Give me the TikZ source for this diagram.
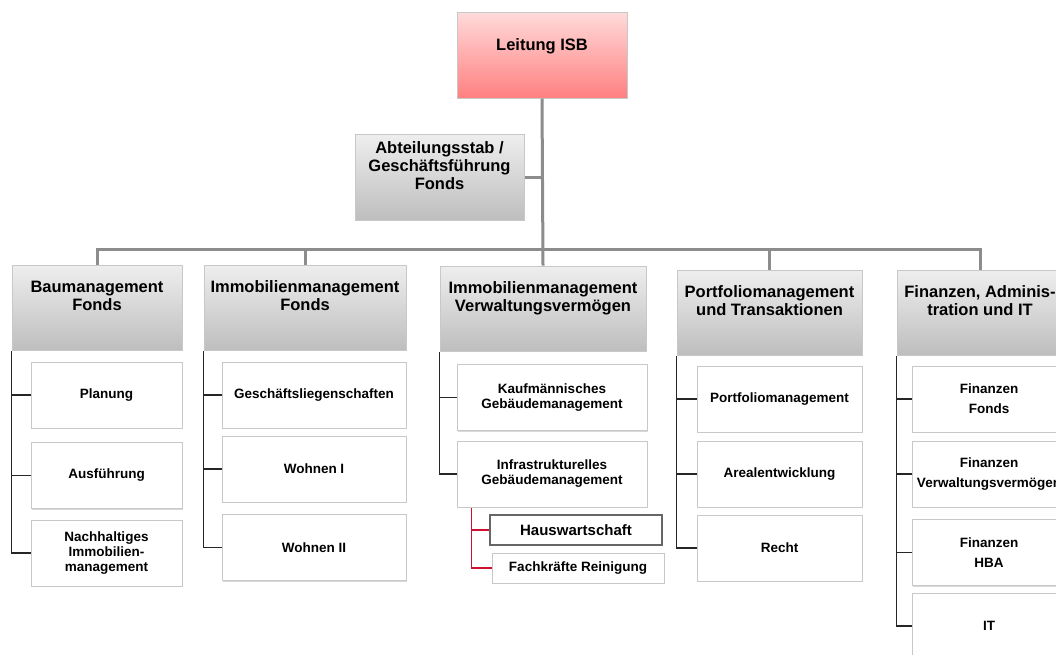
\documentclass[tikz,border=0pt]{standalone}
\usepackage{fontspec}
\setmainfont{Liberation Sans}
\usetikzlibrary{calc,shadows}
\definecolor{leadtop}{RGB}{255,218,218}
\definecolor{leadbot}{RGB}{255,128,128}
\definecolor{headtop}{RGB}{238,238,238}
\definecolor{headbot}{RGB}{190,190,190}
\definecolor{boxline}{RGB}{200,200,200}
\definecolor{busline}{RGB}{140,140,140}
\definecolor{subline}{RGB}{208,16,48}
\begin{document}
\begin{tikzpicture}[
    x=1pt, y=-1pt,
    box/.style={rectangle, draw=boxline, line width=1pt, inner sep=0pt,
      drop shadow={shadow xshift=1.2pt, shadow yshift=-1.2pt, opacity=0.3}},
    lead/.style={box, top color=leadtop, bottom color=leadbot},
    head/.style={box, top color=headtop, bottom color=headbot},
    unit/.style={box, fill=white, align=center, minimum width=#1, minimum height=66,
      font=\bfseries\fontsize{13.5}{15}\selectfont},
    sub/.style={unit=172, minimum height=30},
    boxtxt/.style={anchor=north, align=center, inner sep=0pt,
      font=\bfseries\fontsize{16.5}{18}\selectfont},
    bus/.style={draw=busline, line width=3pt},
    rail/.style={draw=black!85, line width=1.6pt},
    redline/.style={draw=subline, line width=1.2pt}
  ]
  \clip (0,0) rectangle (1056,654);
  % Leitung und Stab
  \node[lead, minimum width=170, minimum height=86] (isb) at (542,55) {};
  \node[boxtxt] (isbtxt) at ($(isb.north)+(0,27)$) {Leitung ISB};
  \node[head, minimum width=169, minimum height=86] (stab) at (439.5,177) {};
  \node[boxtxt] (stabtxt) at ($(stab.north)+(0,8)$) {Abteilungsstab /\\Geschäftsführung\\Fonds};
  % Abteilungen
  \node[head, minimum width=170, minimum height=85] (h1) at (97,307.5) {};
  \node[head, minimum width=202, minimum height=85] (h2) at (305,307.5) {};
  \node[head, minimum width=206, minimum height=85] (h3) at (543,308.5) {};
  \node[head, minimum width=185, minimum height=85] (h4) at (769.5,312.5) {};
  \node[head, minimum width=166, minimum height=85] (h5) at (980,312.5) {};
  \node[boxtxt] (ht1) at ($(h1.north)+(0,16)$) {Baumanagement\\Fonds};
  \node[boxtxt] (ht2) at ($(h2.north)+(0,16)$) {Immobilienmanagement\\Fonds};
  \node[boxtxt] (ht3) at ($(h3.north)+(0,16)$) {Immobilienmanagement\\Verwaltungsvermögen};
  \node[boxtxt] (ht4) at ($(h4.north)+(0,16)$) {Portfoliomanagement\\und Transaktionen};
  \node[boxtxt] (ht5) at ($(h5.north)+(0,16)$) {Finanzen, Adminis-\\tration und IT};
  % Bereiche
  \node[unit=151] (u1_1) at (106.5,395) {Planung};
  \node[unit=151] (u1_2) at (106.5,475.5) {Ausführung};
  \node[unit=151] (u1_3) at (106.5,553) {Nachhaltiges\\Immobilien-\\management};
  \node[unit=184] (u2_1) at (314,395) {Geschäftsliegenschaften};
  \node[unit=184] (u2_2) at (314,469) {Wohnen I};
  \node[unit=184] (u2_3) at (314,547.5) {Wohnen II};
  \node[unit=190] (u3_1) at (552,397.5) {Kaufmännisches\\Gebäudemanagement};
  \node[unit=190] (u3_2) at (552,474) {Infrastrukturelles\\Gebäudemanagement};
  \node[sub, draw=black!60, line width=1.5pt, font=\bfseries\fontsize{15}{17}\selectfont] (hw) at (576,530) {Hauswartschaft};
  \node[sub] (fr) at (578,568) {Fachkräfte Reinigung};
  \node[unit=165] (u4_1) at (779.5,399) {Portfoliomanagement};
  \node[unit=165] (u4_2) at (779.5,474) {Arealentwicklung};
  \node[unit=165] (u4_3) at (779.5,548) {Recht};
  \node[unit=154] (u5_1) at (989,399) {Finanzen\\[5pt]Fonds};
  \node[unit=154] (u5_2) at (989,474) {Finanzen\\[5pt]Verwaltungsvermögen};
  \node[unit=154] (u5_3) at (989,552.5) {Finanzen\\[5pt]HBA};
  \node[unit=154] (u5_4) at (989,626) {IT};
  % Linien
  \coordinate (bar) at (543,249);
  \draw[bus] (isb.south) -- (h3.north);
  \draw[bus] (stab.east) -- (stab.east -| isb.south);
  \draw[bus] (h1.north) -- (h1.north |- bar) -- (h5.north |- bar) -- (h5.north);
  \foreach \i in {2,4} { \draw[bus] (h\i.north) -- (h\i.north |- bar); }
  \foreach \c/\n in {1/3,2/3,3/2,4/3,5/4} {
    \draw[rail] (h\c.south west) |- (u\c_\n.west);
    \foreach \k in {1,...,\n} {
      \draw[rail] (h\c.south west |- u\c_\k.west) -- (u\c_\k.west);
    }
  }
  \coordinate (redtop) at ($(u3_2.south west)+(15,0)$);
  \draw[redline] (redtop) |- (fr.west);
  \draw[redline] (redtop |- hw.west) -- (hw.west);
\end{tikzpicture}
\end{document}
